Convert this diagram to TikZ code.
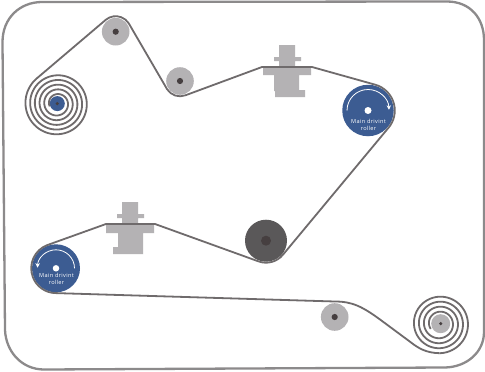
\documentclass[tikz,border=0pt]{standalone}
\usepackage{fontspec}
\setmainfont{Open Sans}
\newfontfamily\lblfont[LetterSpace=6]{Open Sans}
\usetikzlibrary{calc,arrows.meta}
\definecolor{framec}{HTML}{8C8A8B}
\definecolor{stripc}{HTML}{6F6B6C}
\definecolor{rollc}{HTML}{B4B2B4}
\definecolor{hubc}{HTML}{463F40}
\definecolor{bluec}{HTML}{3C5C92}
\definecolor{darkc}{HTML}{5A5859}
\tikzset{
  framepath/.style={draw=framec,line width=2.3pt},
  strip/.style={draw=stripc,line width=1.8pt,line join=round},
  roll/.style={circle,fill=rollc,inner sep=0pt,minimum size=27.6pt},
  hub/.style={circle,fill=hubc,inner sep=0pt,minimum size=6.2pt},
  drive/.style={circle,fill=bluec,inner sep=0pt},
  darkroll/.style={circle,fill=darkc,inner sep=0pt,minimum size=42pt},
  eye/.style={circle,fill=white,inner sep=0pt,minimum size=7pt},
  clamp/.style={fill=rollc},
  sense/.style={draw=white,line width=0.8pt,-{Stealth[length=4.5pt,width=4.5pt]}},
  lab/.style={text=white,font=\lblfont\fontsize{5.6}{7}\selectfont,align=center,inner sep=0pt}
}
\begin{document}
\begin{tikzpicture}[x=1pt,y=-1pt]
\useasboundingbox (0,0) rectangle (485,372);
\fill[white] (0,0) rectangle (485,372);
% frame
\draw[framepath] (42,2) -- (447,1.5) .. controls (470,1.5) and (484,18) .. (484,40)
  -- (484,332) .. controls (484,352) and (467,367) .. (445,367.5)
  -- (44,369.5) .. controls (22,369.5) and (6,352) .. (5,330)
  -- (2.5,42) .. controls (2.5,18) and (20,2) .. (42,2) -- cycle;
% clamps
\fill[clamp] (279,45) rectangle (295,57) (274,57) rectangle (301,61) (279,61) rectangle (295,68)
  (263,68) rectangle (311,75) (274,75) rectangle (299,91) (275,90) rectangle (305,97);
\fill[clamp] (122,202) rectangle (138,214) (117,214) rectangle (144,218) (122,218) rectangle (138,225)
  (106,225) rectangle (154,233) (118,233) rectangle (143,247) (113,247) rectangle (143,254);
% rollers
\node[roll] (ra) at (115.7,31.7) {};
\node[hub] (ha) at (ra) {};
\node[roll] (rb) at (180,81) {};
\node[hub] (hb) at (rb) {};
\node[roll] (rc) at (334.7,317) {};
\node[hub] (hc) at (rc) {};
\node[darkroll] (rd) at (266,240.7) {};
\node[circle,fill=hubc,inner sep=0pt,minimum size=10pt] (hd) at (rd) {};
\node[drive,minimum size=51.5pt] (de) at (368,110.5) {};
\node[eye] (ee) at (de) {};
\node[drive,minimum size=48pt] (df) at (56,268.3) {};
\node[eye,minimum size=6.5pt] (ef) at (df) {};
% wound reels
\node[circle,fill=bluec,inner sep=0pt,minimum size=15pt] (sl) at (57.3,103.6) {};
\node[circle,fill=hubc,inner sep=0pt,minimum size=3.5pt] (slh) at (sl) {};
\node[circle,fill=rollc,inner sep=0pt,minimum size=19pt] (sr) at (440.7,323.7) {};
\node[circle,fill=hubc,inner sep=0pt,minimum size=3.5pt] (srh) at (sr) {};
% strip
\draw[strip] plot[domain=-1640:231,samples=500] ({57.3+(32.5-4.7*(231-\x)/360)*cos(\x)},{103.6+(32.5-4.7*(231-\x)/360)*sin(\x)})
  -- ($(ra)+(231:15.5)$) arc[start angle=231,end angle=327,radius=15.5]
  -- ($(rb)+(147:15.3)$) arc[start angle=147,end angle=69,radius=15.3]
  -- (262,67) -- (312,67)
  -- ($(de)+(-74:26.8)$) arc[start angle=-74,end angle=40,radius=26.8]
  -- ($(rd)+(40:22)$) arc[start angle=40,end angle=110,radius=22]
  -- (155,224) -- (106,224)
  -- ($(df)+(250:24.8)$) arc[start angle=250,end angle=90,radius=24.8]
  -- ($(rc)+(-90:15.5)$) .. controls (352,301.5) and (362,306) .. (383,321.7)
  -- (410,341.7) .. controls (418,348) and (426,353) .. (439.7,353.2);
\draw[strip] plot[domain=90:-1290,samples=500] ({439.7+(29.5-5*(90-\x)/360)*cos(\x)},{323.7+(29.5-5*(90-\x)/360)*sin(\x)});
% rotation arrows
\draw[sense] ($(de)+(180:21)$) arc[start angle=180,end angle=358,radius=21];
\draw[sense] ($(df)+(0:18.5)$) arc[start angle=0,end angle=-178,radius=18.5];
% labels
\node[lab] (le) at (368.5,124.5) {Main drivint\\roller};
\node[lab] (lf) at (56.5,279) {Main drivint\\roller};
\end{tikzpicture}
\end{document}
